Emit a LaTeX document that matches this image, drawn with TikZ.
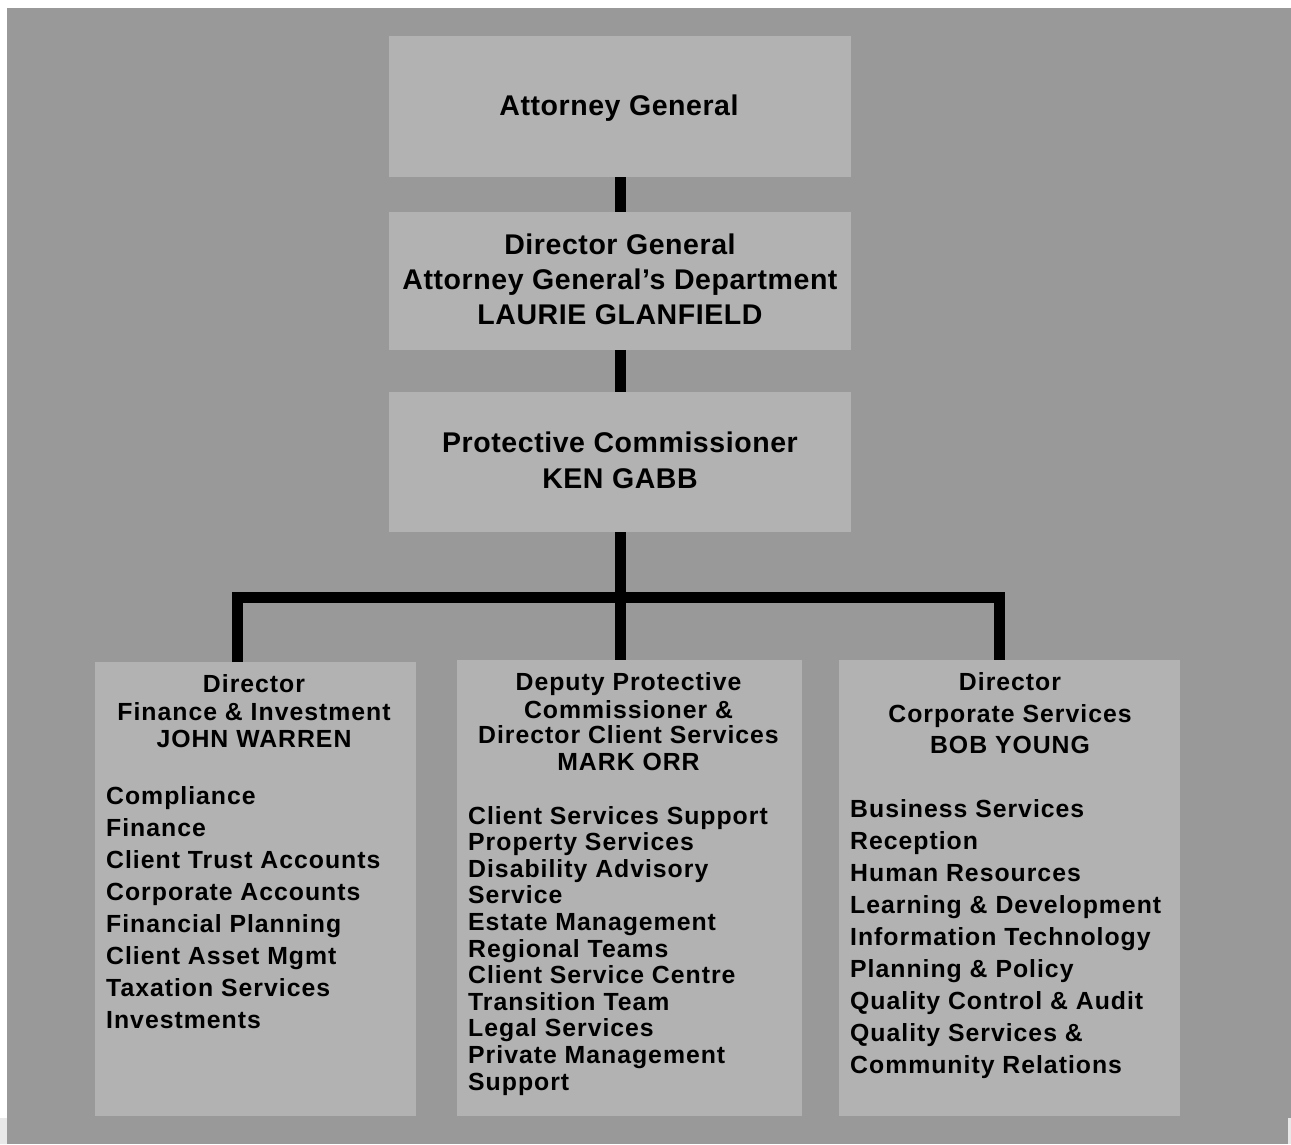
\documentclass[tikz,border=0pt]{standalone}
\usepackage{fontspec}
\setmainfont{Liberation Sans}
\newfontfamily\topfont{Liberation Sans}[LetterSpace=2]
\newfontfamily\lowfont{Liberation Sans}[LetterSpace=4]
\definecolor{bggray}{HTML}{999999}
\definecolor{boxgray}{HTML}{B2B2B2}
\definecolor{edgegray}{HTML}{E8E8E8}
\begin{document}
\begin{tikzpicture}[x=1pt,y=-1pt,
  box/.style={fill=boxgray,draw=none,rectangle,inner sep=0pt,outer sep=0pt},
  toptext/.style={font=\topfont\bfseries\fontsize{28.5}{34}\selectfont,anchor=base,inner sep=0pt},
  lowtext/.style={font=\lowfont\bfseries\fontsize{24.8}{28}\selectfont,anchor=base,inner sep=0pt},
  itemtext/.style={lowtext,anchor=base west},
  conn/.style={line width=11pt,black,line join=miter,line cap=butt}]
\useasboundingbox (0,0) rectangle (1291,1144);
% background
\fill[white] (0,0) rectangle (1291,1144);
\fill[edgegray] (0,1118) rectangle (1291,1144);
\fill[bggray] (7,8) rectangle (1291,1118);
\fill[bggray] (7,1118) rectangle (1288,1144);

% boxes
\node[box,minimum width=462pt,minimum height=141pt] (ag) at (620,106.5) {};
\node[box,minimum width=462pt,minimum height=138pt] (dg) at (620,281) {};
\node[box,minimum width=462pt,minimum height=140pt] (pc) at (620,462) {};
\node[box,minimum width=321pt,minimum height=454pt] (fin) at (255.5,889) {};
\node[box,minimum width=345pt,minimum height=456pt] (dep) at (629.5,888) {};
\node[box,minimum width=341pt,minimum height=456pt] (corp) at (1009.5,888) {};

% connectors
\draw[conn] (ag.south) -- (dg.north);
\draw[conn] (dg.south) -- (pc.north);
\coordinate (jl) at (237.5,597.5);
\coordinate (jm) at (620.5,597.5);
\coordinate (jr) at (999.5,597.5);
\draw[conn] (fin.north -| jl) -- (jl) -- (jr) -- (corp.north -| jr);
\draw[conn] (pc.south -| jm) -- (dep.north -| jm);

% top texts
\node[toptext] (ag-t) at (619,115.7) {Attorney General};
\node[toptext] (dg-t1) at (620,254) {Director General};
\node[toptext] (dg-t2) at (620,289) {Attorney General’s Department};
\node[toptext] (dg-t3) at (620,324) {LAURIE GLANFIELD};
\node[toptext] (pc-t1) at (620,452) {Protective Commissioner};
\node[toptext] (pc-t2) at (620,488) {KEN GABB};

% left box
\node[lowtext] (fin-h1) at (254,692) {Director};
\node[lowtext] (fin-h2) at (254,720) {Finance \& Investment};
\node[lowtext] (fin-h3) at (254,747) {JOHN WARREN};
\foreach \t [count=\i from 0] in {Compliance,Finance,Client Trust Accounts,Corporate Accounts,Financial Planning,Client Asset Mgmt,Taxation Services,Investments}
  \node[itemtext] (fin-i\i) at (106,804+32*\i) {\t};

% middle box
\node[lowtext] (dep-h1) at (628.5,690) {Deputy Protective};
\node[lowtext] (dep-h2) at (628.5,718) {Commissioner \&};
\node[lowtext] (dep-h3) at (628.5,743) {Director Client Services};
\node[lowtext] (dep-h4) at (628.5,770) {MARK ORR};
\foreach \t [count=\i from 0] in {Client Services Support,Property Services,Disability Advisory,Service,Estate Management,Regional Teams,Client Service Centre,Transition Team,Legal Services,Private Management,Support}
  \node[itemtext] (dep-i\i) at (468,824+26.6*\i) {\t};

% right box
\node[lowtext] (corp-h1) at (1010,690) {Director};
\node[lowtext] (corp-h2) at (1010,722) {Corporate Services};
\node[lowtext] (corp-h3) at (1010,753) {BOB YOUNG};
\foreach \t [count=\i from 0] in {Business Services,Reception,Human Resources,Learning \& Development,Information Technology,Planning \& Policy,Quality Control \& Audit,Quality Services \&,Community Relations}
  \node[itemtext] (corp-i\i) at (850,817+32*\i) {\t};
\end{tikzpicture}
\end{document}
